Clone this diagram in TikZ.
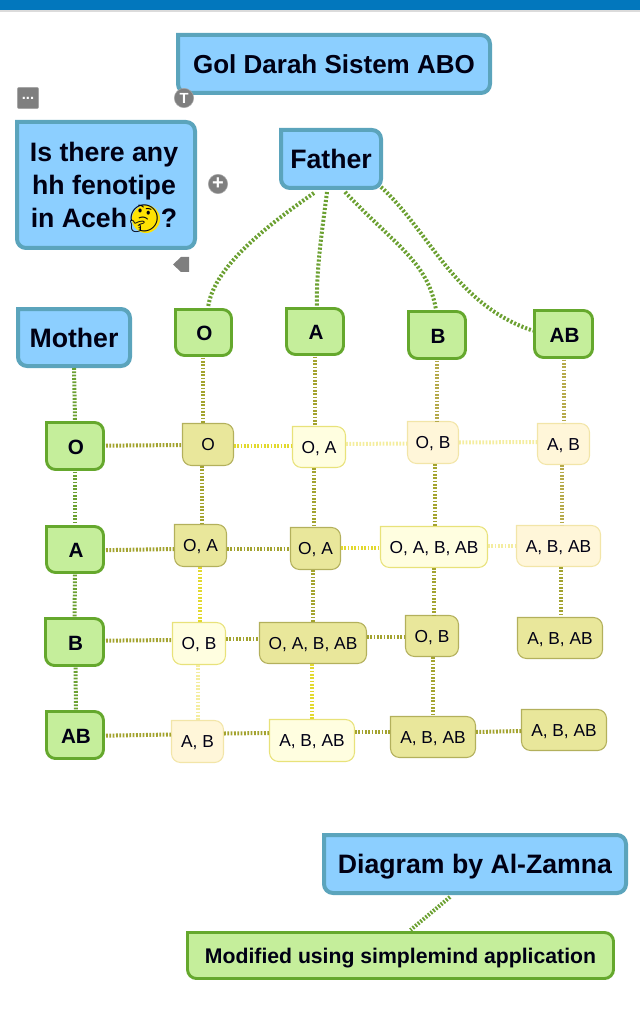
\documentclass[tikz,border=0pt]{standalone}
\usepackage{fontspec}
\setmainfont{Liberation Sans}
\newfontfamily\emojifont{Noto Emoji}
\usetikzlibrary{calc}
\definecolor{blueF}{HTML}{8CCFFF}\definecolor{blueD}{HTML}{5BA4BC}
\definecolor{greenF}{HTML}{C5EE9B}\definecolor{greenD}{HTML}{65A82D}
\definecolor{darkF}{HTML}{E9E79B}\definecolor{darkD}{HTML}{B3B05C}
\definecolor{lightF}{HTML}{FFFEE0}\definecolor{lightD}{HTML}{E8E27A}
\definecolor{creamF}{HTML}{FFF6D9}\definecolor{creamD}{HTML}{F2E5A8}
\definecolor{cG}{HTML}{6BA031}\definecolor{cO}{HTML}{A3A32F}
\definecolor{cY}{HTML}{E2D92E}\definecolor{cP}{HTML}{F4EDA0}
\definecolor{cT}{HTML}{B5A94A}\definecolor{bar}{HTML}{0277BD}
\definecolor{icon}{HTML}{7F7F7F}
\tikzset{
  bluebox/.style={draw=blueD,fill=blueF,line width=3pt},
  greenbox/.style={draw=greenD,fill=greenF,line width=2.2pt},
  darkcell/.style={draw=darkD,fill=darkF,line width=.8pt},
  lightcell/.style={draw=lightD,fill=lightF,line width=.8pt},
  creamcell/.style={draw=creamD,fill=creamF,line width=.8pt},
  conn/.style={draw=#1,line width=3pt,dash pattern=on 1.6pt off 1.4pt},
  thin conn/.style={draw=#1,line width=3pt,dash pattern=on 1.35pt off 1.15pt},
  lbl/.style={inner sep=0pt,outer sep=0pt,align=center,text=black!92!blue},
  big/.style={font=\fontsize{20}{24.75}\selectfont\bfseries,text height=14.3pt,text depth=0pt},
  titlef/.style={font=\fontsize{19.5}{24}\selectfont\bfseries,text height=14pt,text depth=0pt},
  bigq/.style={font=\fontsize{20}{24.75}\selectfont\bfseries,xshift=-1.5pt,yshift=-1.5pt},
  mid/.style={font=\fontsize{15.5}{18}\selectfont\bfseries,text height=11.1pt,text depth=0pt,xshift=.75pt,yshift=-.5pt},
  modf/.style={font=\fontsize{15.9}{20}\selectfont\bfseries,text height=11.4pt,text depth=0pt},
  cell/.style={font=\fontsize{13}{16}\selectfont,text height=9.3pt,text depth=0pt},
  icontxt/.style={inner sep=0pt,text=white,font=\fontsize{11}{11}\selectfont\bfseries}
}
\def\ins{0}
% outline: square top-left corner, other three rounded; inset so the stroke stays inside
\newcommand{\bxpath}[6][9]{%
  \draw[#6] ({#2+\ins},{#3+\ins}) [rounded corners=#1*.75pt] -- ({#4-\ins},{#3+\ins}) -- ({#4-\ins},{#5-\ins}) -- ({#2+\ins},{#5-\ins}) [sharp corners] -- cycle;}
\newcommand{\bxnode}[7]{%
  \node[lbl,#6,minimum width={(#4-#2)*.75pt},minimum height={(#5-#3)*.75pt}] (#1) at ({(#2+#4)/2},{(#3+#5)/2}) {#7};}
\newcommand{\cellbox}[7]{\bxpath[9]{#2}{#3}{#4}{#5}{#6}\bxnode{#1}{#2}{#3}{#4}{#5}{cell}{#7}}
\newcommand{\vc}[5]{\draw[thin conn=#5] ($(#1.south)+(#3,0)$) -- ($(#2.north)+(#4,0)$);}
\newcommand{\hc}[5]{\draw[thin conn=#5] ($(#1.east)+(0,#3)$) -- ($(#2.west)+(0,#4)$);}
\begin{document}
\begin{tikzpicture}[x=.75pt,y=-.75pt]
\useasboundingbox (0,0) rectangle (640,1023);
\fill[black!14] (0,10) rectangle (640,12);
\fill[bar] (0,0) rectangle (640,10);

% blue boxes
\def\ins{2}
\bxpath{176}{33}{492}{95}{bluebox}
\bxnode{title}{176}{33}{492}{95}{titlef}{Gol Darah Sistem ABO}
\bxpath{15}{120}{197}{250}{bluebox}
\fill[yellow!85!orange] (146,219) circle (14);
\bxnode{q}{15}{120}{197}{250}{bigq}{Is there any\\hh fenotipe\\in Aceh{\emojifont\fontsize{20}{24}\selectfont\symbol{"1F914}}?}
\bxpath{279}{128}{383}{190}{bluebox}
\bxnode{father}{279}{128}{383}{190}{big}{Father}
\bxpath{16}{307}{132}{368}{bluebox}
\bxnode{mother}{16}{307}{132}{368}{big}{Mother}
\bxpath{322}{833}{628}{895}{bluebox}
\bxnode{by}{322}{833}{628}{895}{big}{Diagram by Al-Zamna}

% green boxes
\def\ins{1.5}
\bxpath{174}{308}{233}{357}{greenbox}\bxnode{fO}{174}{308}{233}{357}{mid}{O}
\bxpath{285}{307}{345}{356}{greenbox}\bxnode{fA}{285}{307}{345}{356}{mid}{A}
\bxpath{407}{310}{467}{360}{greenbox}\bxnode{fB}{407}{310}{467}{360}{mid}{B}
\bxpath{533}{309}{594}{359}{greenbox}\bxnode{fAB}{533}{309}{594}{359}{mid}{AB}
\bxpath{45}{421}{105}{471}{greenbox}\bxnode{mO}{45}{421}{105}{471}{mid}{O}
\bxpath{45}{525}{105}{574}{greenbox}\bxnode{mA}{45}{525}{105}{574}{mid}{A}
\bxpath{44}{617}{105}{667}{greenbox}\bxnode{mB}{44}{617}{105}{667}{mid}{B}
\bxpath{45}{710}{105}{760}{greenbox}\bxnode{mAB}{45}{710}{105}{760}{mid}{AB}
\bxpath{186}{931}{615}{980}{greenbox}
\bxnode{mod}{186}{931}{615}{980}{modf}{Modified using simplemind application}

% result cells
\def\ins{0.5}
\cellbox{a1}{182}{423}{234}{466}{darkcell}{O}
\cellbox{a2}{292}{426}{346}{468}{lightcell}{O, A}
\cellbox{a3}{407}{421}{459}{464}{creamcell}{O, B}
\cellbox{a4}{537}{423}{590}{465}{creamcell}{A, B}
\cellbox{b1}{174}{524}{227}{567}{darkcell}{O, A}
\cellbox{b2}{290}{527}{341}{570}{darkcell}{O, A}
\cellbox{b3}{380}{526}{488}{568}{lightcell}{O, A, B, AB}
\cellbox{b4}{516}{525}{601}{567}{creamcell}{A, B, AB}
\cellbox{c1}{172}{622}{226}{665}{lightcell}{O, B}
\cellbox{c2}{259}{622}{367}{664}{darkcell}{O, A, B, AB}
\cellbox{c3}{405}{615}{459}{657}{darkcell}{O, B}
\cellbox{c4}{517}{617}{603}{659}{darkcell}{A, B, AB}
\cellbox{d1}{171}{720}{224}{763}{creamcell}{A, B}
\cellbox{d2}{269}{719}{355}{762}{lightcell}{A, B, AB}
\cellbox{d3}{390}{716}{476}{758}{darkcell}{A, B, AB}
\cellbox{d4}{521}{709}{607}{751}{darkcell}{A, B, AB}

% father links
\draw[conn=cG] ($(father.south)+(-17,3)$) .. controls +(-55,38) and (213,270) .. ($(fO.north)+(3.5,-1)$);
\draw[conn=cG] ($(father.south)+(-4,2)$) .. controls +(-5,40) and (316,270) .. ($(fA.north)+(1,-1)$);
\draw[conn=cG] ($(father.south)+(14,2)$) .. controls (395,245) and (428,262) .. ($(fB.north)+(-2,-1)$);
\draw[conn=cG] ($(father.east)+(-2,28)$) .. controls (430,232) and (455,305) .. ($(fAB.west)+(-1,-4)$);

% mother column
\vc{mother}{mO}{0}{-1}{cG}
\vc{mO}{mA}{-1}{-1}{cG}
\vc{mA}{mB}{-1}{-1}{cG}
\vc{mB}{mAB}{0}{0}{cG}

% father row to first cells
\vc{fO}{a1}{-1.5}{-5}{cO}
\vc{fA}{a2}{-1}{-4}{cO}
\vc{fB}{a3}{-1}{4}{cT}
\vc{fAB}{a4}{-1}{0}{cT}

% vertical
\vc{a1}{b1}{-6.5}{1}{cO}
\vc{b1}{c1}{-0.5}{1}{cY}
\vc{c1}{d1}{-1}{0.5}{cP}
\vc{a2}{b2}{-5}{-1.5}{cO}
\vc{b2}{c2}{-2.5}{0}{cO}
\vc{c2}{d2}{-1}{0}{cY}
\vc{a3}{b3}{2}{1}{cO}
\vc{b3}{c3}{0}{2}{cO}
\vc{c3}{d3}{1}{0}{cO}
\vc{a4}{b4}{-1.5}{3.5}{cT}
\vc{b4}{c4}{2.5}{1}{cO}

% horizontal
\hc{mO}{a1}{-1}{0.5}{cO}
\hc{a1}{a2}{1}{-1.5}{cY}
\hc{a2}{a3}{-3}{1}{cP}
\hc{a3}{a4}{0}{-2}{cP}
\hc{mA}{b1}{0}{3.5}{cO}
\hc{b1}{b2}{3.5}{0.5}{cO}
\hc{b2}{b3}{-0.5}{1}{cY}
\hc{b3}{b4}{-1}{0}{cP}
\hc{mB}{c1}{-2}{-3.5}{cO}
\hc{c1}{c2}{-4.5}{-4}{cO}
\hc{c2}{c3}{-6}{1}{cO}
\hc{mAB}{d1}{0}{-7}{cO}
\hc{d1}{d2}{-8}{-7.5}{cO}
\hc{d2}{d3}{-8.5}{-5}{cO}
\hc{d3}{d4}{-5}{1}{cO}

% lower link
\draw[thin conn=cG] ($(by.south)+(-25,2)$) -- ($(mod.north)+(10,-1)$);

% app icons
\node[fill=icon,draw=black!35,rounded corners=1.5pt,minimum size=16pt,inner sep=0pt,icontxt] (more) at (28,98) {...};
\node[circle,fill=icon,draw=black!35,minimum size=14.5pt,inner sep=0pt,icontxt] (tee) at (184,98) {T};
\node[circle,fill=icon,draw=black!35,minimum size=14.5pt,inner sep=0pt,icontxt,font=\fontsize{15}{15}\selectfont\bfseries] (plus) at (218,184) {+};
\fill[icon] (173,264.5) -- (181,257) -- (189,257) -- (189,272) -- (181,272) -- cycle;
\end{tikzpicture}
\end{document}
